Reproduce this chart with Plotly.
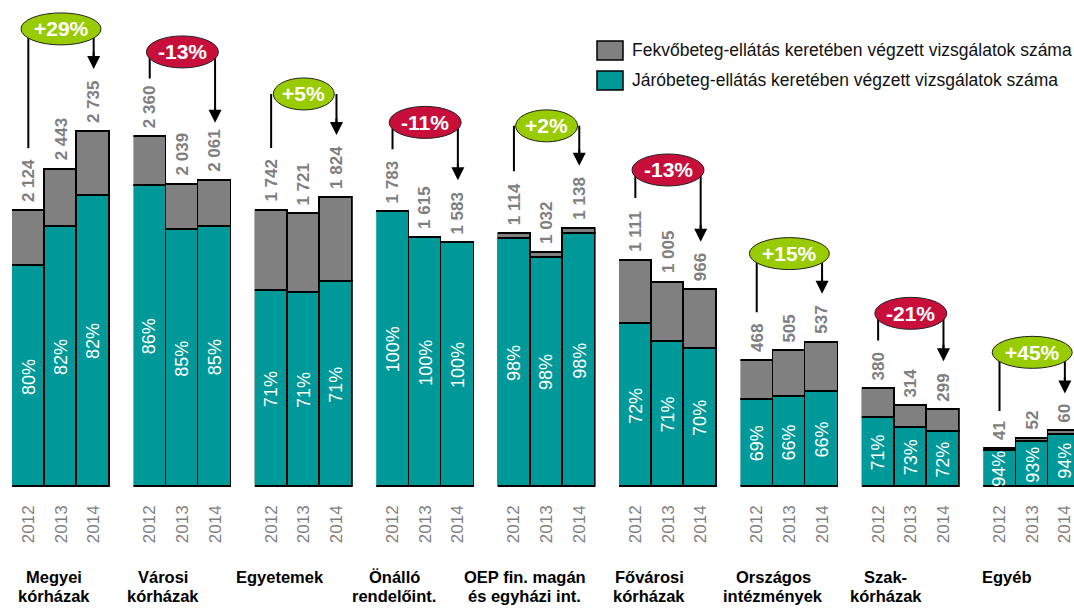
import plotly.graph_objects as go

# ---- data -------------------------------------------------------------
groups = [
    ["Megyei", "kórházak"], ["Városi", "kórházak"], ["Egyetemek"], ["Önálló", "rendelőint."],
    ["OEP fin. magán", "és egyházi int."], ["Fővárosi", "kórházak"], ["Országos", "intézmények"],
    ["Szak-", "kórházak"], ["Egyéb"],
]
years = ["2012", "2013", "2014"]
totals = [
    [2124, 2443, 2735], [2360, 2039, 2061], [1742, 1721, 1824],
    [1783, 1615, 1583], [1114, 1032, 1138], [1111, 1005, 966],
    [468, 505, 537], [380, 314, 299], [41, 52, 60],
]
jaro_pct = [
    [80, 82, 82], [86, 85, 85], [71, 71, 71],
    [100, 100, 100], [98, 98, 98], [72, 71, 70],
    [69, 66, 66], [71, 73, 72], [94, 93, 94],
]
change_labels = ["+29%", "-13%", "+5%", "-11%", "+2%", "-13%", "+15%", "-21%", "+45%"]
legend_labels = [
    "Fekvőbeteg-ellátás keretében végzett vizsgálatok száma",
    "Járóbeteg-ellátás keretében végzett vizsgálatok száma",
]

# ---- styling / layout -------------------------------------------------
W, H = 1074, 608
PLOT_H = 487                      # plot area height in px (bottom margin holds labels)
FONT = "Arial, 'Liberation Sans', sans-serif"
TEAL, GRAY = "#009999", "#808080"
GREEN, RED = "#99CC00", "#C80F3C"
LABEL_GRAY = "#7F7F7F"

FIRST_LEFT, PITCH, GROUP_W = 12, 121.4, 98
y_top = [3751, 3283, 3073, 3162, 2147, 2394, 1811, 1895, 525]   # per-group y-axis scale
oval_rise = [103, 85, 104, 90, 103, 91, 89, 76, 79]              # px above tallest bar
oval_w = [80, 72, 61, 72, 62, 72, 80, 72, 80]
OVAL_H = 32
bracket_gap = [11.5, 7, 11.5, 11.5, 11.5, 11.5, 11.5, 11.5, 10]
name_shift = [-7, -19, -24, -31, -22, -19, -16, -25, -25]
name_rows_px = [577, 596]          # vertical centres of the category name lines

FS_TOT, FS_PCT, FS_YEAR, FS_NAME, FS_OVAL, FS_LEG = 17, 18, 17, 16.5, 21, 17.5
LABEL_GAP = 7


def fmt_total(v):
    return f"{v:,}".replace(",", " ")


def label_len(s, size):
    # approximate rendered length of a bold numeric label (Arial metrics)
    return size * sum(0.278 if c == " " else 0.556 for c in s) + 2


fig = go.Figure()
layout = dict(
    width=W, height=H, template="none", barmode="stack", bargap=0,
    margin=dict(l=0, r=0, t=0, b=H - PLOT_H, pad=0),
    paper_bgcolor="white", plot_bgcolor="white",
    font=dict(family=FONT, color="black"), showlegend=False,
)
shapes, annotations = [], []

for k in range(len(groups)):
    sfx = "" if k == 0 else str(k + 1)
    xa, ya = "x" + sfx, "y" + sfx
    left = FIRST_LEFT + PITCH * k
    right = left + GROUP_W
    unit = GROUP_W / 3
    x_hi = 2.5 if right <= W else -0.5 + (W - left) / unit
    right = min(right, W)

    tot = totals[k]
    teal = [t * p / 100 for t, p in zip(tot, jaro_pct[k])]
    gray = [t - j for t, j in zip(tot, teal)]
    xs = [0, 1, 2]

    fig.add_bar(x=xs, y=teal, xaxis=xa, yaxis=ya, width=1,
                marker=dict(color=TEAL, line=dict(color="black", width=1.6)),
                hoverinfo="skip")
    fig.add_bar(x=xs, y=gray, xaxis=xa, yaxis=ya, width=1,
                marker=dict(color=GRAY, line=dict(color="black", width=1.6)),
                hoverinfo="skip")

    layout["xaxis" + sfx] = dict(
        domain=[left / W, right / W], range=[-0.5, x_hi], anchor=ya,
        tickmode="array", tickvals=xs, ticktext=years, tickangle=-90,
        tickfont=dict(size=FS_YEAR, color=LABEL_GRAY, family=FONT),
        ticks="", ticklabelstandoff=14, ticklabeloverflow="allow",
        showgrid=False, zeroline=False,
        showline=False, automargin=False, fixedrange=True,
    )
    layout["yaxis" + sfx] = dict(
        domain=[0, 1], range=[0, y_top[k]], anchor=xa, visible=False,
        showgrid=False, zeroline=False, fixedrange=True,
    )

    u = y_top[k] / PLOT_H       # data units per pixel in this group

    # totals above the bars and shares inside the teal part
    for i in xs:
        annotations.append(dict(
            x=i, y=tot[i], xref=xa, yref=ya, text=f"<b>{fmt_total(tot[i])}</b>",
            textangle=-90, yanchor="bottom", xanchor="center", yshift=LABEL_GAP,
            showarrow=False, font=dict(size=FS_TOT, color=LABEL_GRAY, family=FONT),
        ))
        annotations.append(dict(
            x=i, y=teal[i] / 2, xref=xa, yref=ya, text=f"{jaro_pct[k][i]}%",
            textangle=-90, yanchor="middle", xanchor="center",
            showarrow=False, font=dict(size=FS_PCT, color="white", family=FONT),
        ))

    # change bracket: oval, two vertical lines, arrow head on the last year
    y_oval = max(tot) + oval_rise[k] * u
    top_first = tot[0] + (LABEL_GAP + label_len(fmt_total(tot[0]), FS_TOT) + bracket_gap[k]) * u
    tip_last = tot[2] + (LABEL_GAP + label_len(fmt_total(tot[2]), FS_TOT) + bracket_gap[k]) * u
    line = dict(color="black", width=2)
    shapes.append(dict(type="line", xref=xa, yref=ya, x0=0, x1=0,
                       y0=top_first, y1=y_oval, line=line, layer="above"))
    shapes.append(dict(type="line", xref=xa, yref=ya, x0=2, x1=2,
                       y0=tip_last + 6 * u, y1=y_oval, line=line, layer="above"))
    shapes.append(dict(
        type="circle", xref=xa, yref=ya, xsizemode="pixel", ysizemode="pixel",
        xanchor=1, yanchor=y_oval, x0=-oval_w[k] / 2, x1=oval_w[k] / 2,
        y0=-OVAL_H / 2, y1=OVAL_H / 2,
        fillcolor=GREEN if change_labels[k].startswith("+") else RED,
        line=dict(color="#222222", width=1), layer="above",
    ))
    annotations.append(dict(
        x=2, y=tip_last, xref=xa, yref=ya, ax=0, ay=-18, text="",
        showarrow=True, arrowhead=2, arrowsize=1.3, arrowwidth=2,
        arrowcolor="black", standoff=0,
    ))
    annotations.append(dict(
        x=1, y=y_oval, xref=xa, yref=ya, text=f"<b>{change_labels[k]}</b>",
        showarrow=False, font=dict(size=FS_OVAL, color="white", family=FONT),
    ))

    # category name under the year labels, one annotation per line
    center = FIRST_LEFT + PITCH * k + GROUP_W / 2 + name_shift[k]
    for row, part in enumerate(groups[k]):
        annotations.append(dict(
            x=center / W, y=-(name_rows_px[row] - PLOT_H) / PLOT_H,
            xref="paper", yref="paper", text=f"<b>{part}</b>",
            xanchor="center", yanchor="middle", showarrow=False, borderpad=0,
            font=dict(size=FS_NAME, color="black", family=FONT),
        ))

# legend drawn as swatches + text in the upper right corner
for j, (label, color) in enumerate(zip(legend_labels, [GRAY, TEAL])):
    top_px = 41 + 30 * j
    shapes.append(dict(
        type="rect", xref="paper", yref="paper",
        x0=597 / W, x1=623 / W, y0=1 - (top_px + 19) / PLOT_H, y1=1 - top_px / PLOT_H,
        fillcolor=color, line=dict(color="black", width=1.5),
    ))
    annotations.append(dict(
        x=630 / W, y=1 - (top_px + 9.5) / PLOT_H, xref="paper", yref="paper",
        text=label, xanchor="left", yanchor="middle", showarrow=False,
        font=dict(size=FS_LEG, color="#111111", family=FONT),
    ))

layout["shapes"] = shapes
layout["annotations"] = annotations
fig.update_layout(**layout)
fig.write_html("out.html", config={"displayModeBar": False})
